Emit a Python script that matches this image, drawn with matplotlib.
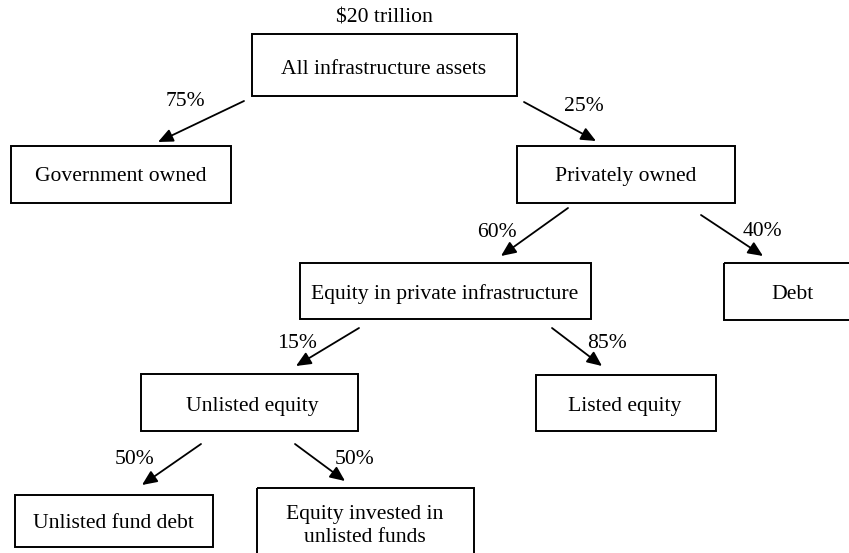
import matplotlib
matplotlib.use("Agg")
import matplotlib.pyplot as plt
from matplotlib.patches import Rectangle

# ---- data ----
total_label = "$20 trillion"
node_labels = [
    "All infrastructure assets",
    "Government owned",
    "Privately owned",
    "Equity in private infrastructure",
    "Debt",
    "Unlisted equity",
    "Listed equity",
    "Unlisted fund debt",
    "Equity invested in\nunlisted funds",
]
edge_parent = [0, 0, 2, 2, 3, 3, 5, 5]
edge_child = [1, 2, 3, 4, 5, 6, 7, 8]
edge_share = [75, 25, 60, 40, 15, 85, 50, 50]

# ---- layout (pixel coordinates, y downwards) ----
W, H = 849, 553
box_xy = [
    (252, 34, 517, 96),
    (11, 146, 231, 203),
    (517, 146, 735, 203),
    (300, 263, 591, 319),
    (724, 263, 852, 320),
    (141, 374, 358, 431),
    (536, 375, 716, 431),
    (15, 495, 213, 547),
    (257, 488, 474, 560),
]
text_xy = [
    (384, 67), (121, 174), (626, 174), (445, 292), (792, 292),
    (252, 404), (625, 404), (113, 521), (365, 521),
]
arrow_xy = [
    ((244, 101), (158, 142), (185, 99)),
    ((524, 102), (596, 141), (584, 104)),
    ((568, 208), (501, 256), (497, 230)),
    ((701, 215), (763, 256), (762, 229)),
    ((359, 328), (296, 366), (297, 341)),
    ((552, 328), (602, 366), (607, 341)),
    ((201, 444), (142, 485), (135, 457)),
    ((295, 444), (345, 481), (355, 457)),
]

FONT = "Liberation Serif"
FS = 15.6

fig = plt.figure(figsize=(W / 100, H / 100), dpi=100)
ax = fig.add_axes([0, 0, 1, 1])
ax.set_xlim(0, W)
ax.set_ylim(H, 0)
ax.axis("off")

ax.text(384, 16, total_label, ha="center", va="center_baseline",
        fontsize=FS, family=FONT)

for label, (x0, y0, x1, y1), (tx, ty) in zip(node_labels, box_xy, text_xy):
    ax.add_patch(Rectangle((x0, y0), x1 - x0, y1 - y0, fill=False,
                           edgecolor="black", linewidth=1.4, clip_on=True))
    ax.text(tx, ty, label, ha="center", va="center_baseline",
            fontsize=FS, family=FONT, linespacing=1.3)

for share, (start, end, lab) in zip(edge_share, arrow_xy):
    ax.annotate("", xy=end, xytext=start,
                arrowprops=dict(arrowstyle="-|>,head_length=0.45,head_width=0.2",
                                color="black", lw=1.3,
                                mutation_scale=20, shrinkA=0, shrinkB=0))
    ax.text(lab[0], lab[1], f"{share}%", ha="center", va="center_baseline",
            fontsize=FS, family=FONT)

fig.savefig("out.png", dpi=100)
